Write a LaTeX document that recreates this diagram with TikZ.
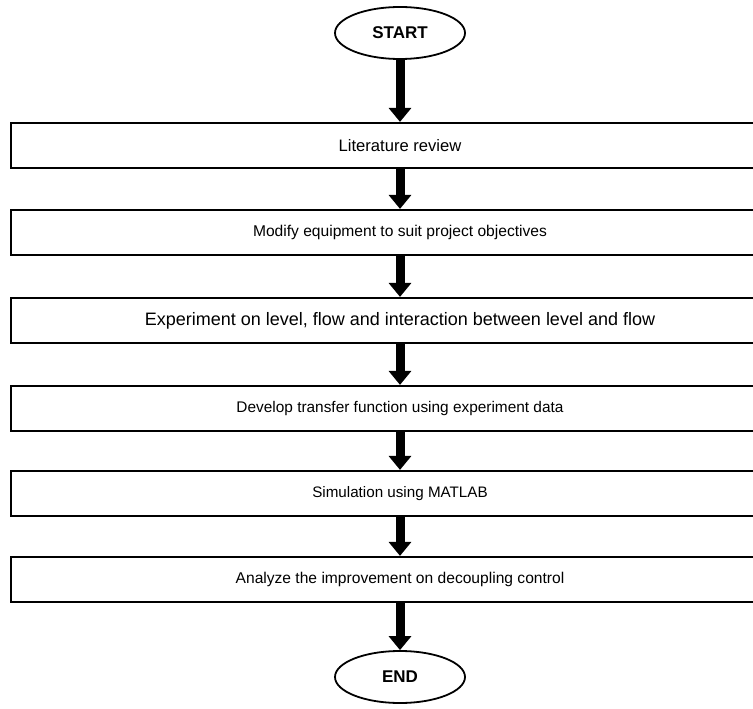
\documentclass[tikz,border=0pt]{standalone}
\usepackage{fontspec}
\setmainfont{Liberation Sans}
\usetikzlibrary{shapes.geometric,arrows.meta}
\begin{document}
\begin{tikzpicture}[x=1pt,y=1pt,
  stepbox/.style={draw,line width=2.2pt,minimum width=778pt,minimum height=45pt,inner sep=0pt,
    font=\fontsize{15.6}{20}\selectfont},
  term/.style={draw,ellipse,line width=1.8pt,minimum width=130pt,minimum height=52pt,inner sep=0pt,
    font=\bfseries\fontsize{17}{20}\selectfont},
  flow/.style={line width=9pt,-{Triangle[width=22pt,length=14pt]}}]
\useasboundingbox (0,0) rectangle (753,-709);
\node[term] (s) at (400,-33) {START};
\node[stepbox,font=\fontsize{16.6}{20}\selectfont] (b1) at (400,-145.5) {Literature review};
\node[stepbox] (b2) at (400,-232.5) {Modify equipment to suit project objectives};
\node[stepbox,font=\fontsize{18}{20}\selectfont] (b3) at (400,-320.5) {Experiment on level, flow and interaction between level and flow};
\node[stepbox,font=\fontsize{15.4}{20}\selectfont] (b4) at (400,-408.5) {Develop transfer function using experiment data};
\node[stepbox,font=\fontsize{15.2}{20}\selectfont] (b5) at (400,-493.5) {Simulation using MATLAB};
\node[stepbox] (b6) at (400,-579.5) {Analyze the improvement on decoupling control};
\node[term] (e) at (400,-677) {END};
\draw[flow] (s.south) -- (b1.north);
\draw[flow] (b1.south) -- (b2.north);
\draw[flow] (b2.south) -- (b3.north);
\draw[flow] (b3.south) -- (b4.north);
\draw[flow] (b4.south) -- (b5.north);
\draw[flow] (b5.south) -- (b6.north);
\draw[flow] (b6.south) -- (e.north);
\end{tikzpicture}
\end{document}
